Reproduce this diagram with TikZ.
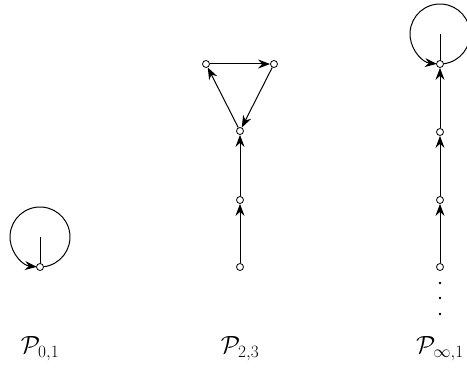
\documentclass[tikz,border=0pt]{standalone}
\usetikzlibrary{arrows.meta}
\begin{document}
\begin{tikzpicture}[x=1pt,y=1pt,
  vtx/.style={circle,draw,fill=white,inner sep=0pt,minimum size=7pt,line width=0.8pt},
  edge/.style={line width=1pt,-{Stealth[length=12pt,width=9pt,inset=4pt]}},
  plain/.style={line width=1pt},
  lbl/.style={font=\fontsize{27}{30}\selectfont},
  dot/.style={circle,fill=black,inner sep=0pt,minimum size=2.8pt}]
\useasboundingbox (0,0) rectangle (467,370);
% P_{0,1}
\coordinate (c0) at (40,133);
\draw[plain] (c0) -- (40,103);
\draw[edge] ([shift={(-83:30)}]c0) arc[start angle=-83,end angle=264,radius=30];
\node[vtx] (v0) at (40,103) {};
% P_{2,3}
\node[vtx] (a) at (206,306) {};
\node[vtx] (b) at (274,306) {};
\node[vtx] (c) at (240,239) {};
\node[vtx] (d) at (240,170) {};
\node[vtx] (e) at (240,103) {};
\draw[edge] (a) -- (b);
\draw[edge] (b) -- (c);
\draw[edge] (c) -- (a);
\draw[edge] (d) -- (c);
\draw[edge] (e) -- (d);
% P_{inf,1}
\coordinate (c1) at (440,336);
\draw[plain] (c1) -- (440,306);
\draw[edge] ([shift={(-83:30)}]c1) arc[start angle=-83,end angle=264,radius=30];
\node[vtx] (t1) at (440,306) {};
\node[vtx] (t2) at (440,238) {};
\node[vtx] (t3) at (440,170) {};
\node[vtx] (t4) at (440,103) {};
\draw[edge] (t2) -- (t1);
\draw[edge] (t3) -- (t2);
\draw[edge] (t4) -- (t3);
\node[dot] (d1) at (440,87) {};
\node[dot] (d2) at (440,72) {};
\node[dot] (d3) at (440,56) {};
% labels
\node[lbl] (l0) at (40,21) {$\mathcal{P}_{0,1}$};
\node[lbl] (l1) at (240,21) {$\mathcal{P}_{2,3}$};
\node[lbl] (l2) at (440,21) {$\mathcal{P}_{\infty,1}$};
\end{tikzpicture}
\end{document}
